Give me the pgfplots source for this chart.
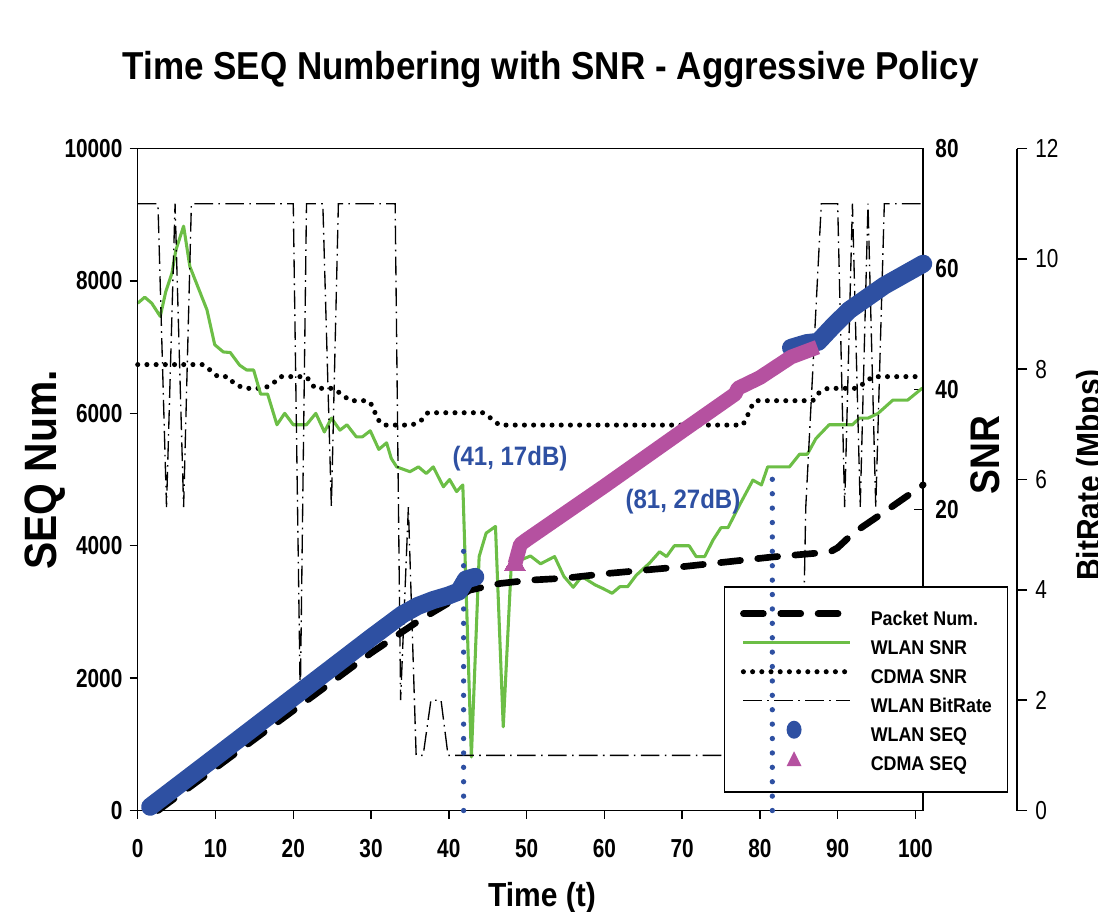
\documentclass[border=0pt]{standalone}
\usepackage{fontspec}
\setmainfont[FakeStretch=0.9]{Liberation Sans}
\newfontfamily\tickfam[FakeStretch=0.8]{Liberation Sans}
\usepackage{pgfplots}
\pgfplotsset{compat=1.18}

\definecolor{seqblue}{RGB}{46,80,162}
\definecolor{snrgreen}{RGB}{108,190,70}
\definecolor{cdmapink}{RGB}{181,81,160}

\newcommand\tlfont{\tickfam\fontsize{19.5}{19.5}\selectfont\bfseries}
% fixed (invisible) box for every legend image, so all rows line up
\newcommand\legbox{\pgfpathrectangle{\pgfpoint{0pt}{-2pt}}{\pgfpoint{80pt}{14pt}}\pgfusepath{discard}}

\tikzset{
  packetstyle/.style={black, line width=5pt, dash pattern=on 15pt off 13pt, line cap=round},
  wsnrstyle/.style={snrgreen, line width=2.3pt, line join=round},
  csnrstyle/.style={black, line width=3.8pt, dash pattern=on 0pt off 6.9pt, line cap=round},
  bratestyle/.style={black, line width=1pt, dash pattern=on 14pt off 4pt on 1.2pt off 4pt},
}
\pgfplotsset{
  common/.style={at={(0pt,0pt)}, anchor=south west, scale only axis,
    width=589.1pt, height=496.5pt, xmin=0, xmax=101, clip=false,
    /pgf/number format/assume math mode=true},
}

\begin{document}
\begin{tikzpicture}

% SNR axis (right)
\begin{axis}[common, ymin=-30, ymax=80,
    axis x line=none, axis y line*=right,
    ytick={20,40,60,80}, tick align=inside, major tick length=7pt,
    axis line style={line width=1.1pt},
    tick style={line width=1.1pt, black},
    yticklabel style={font=\tlfont, anchor=west, inner sep=0pt, xshift=9pt}]
\addplot[csnrstyle] coordinates {
 (0,44.1) (8.4,44.1) (9.3,43.2) (10.3,42.1) (11.6,42.1) (12.5,40.8) (13.8,40.15)
 (16.1,40.15) (17.2,40.7) (18.3,42.1) (21.7,42.1) (22.8,40.15) (25.1,40.15)
 (26.3,39.1) (27.3,38.1) (29.6,38.1) (30.3,37.1) (30.7,35.2) (31.6,34.05)
 (35.2,34.05) (36.3,34.6) (37.3,36.1) (44.4,36.1) (45.5,35.1) (46.5,34.05)
 (77.8,34.05) (78.3,35.3) (78.9,37.1) (79.5,38.1) (86.8,38.1) (87.6,39.4)
 (88.7,40.15) (92.4,40.15) (93.4,41.0) (94.5,42.1) (101,42.1)
};
\addplot[wsnrstyle] coordinates {
 (0,54.3) (0.9,55.3) (1.8,54.3) (2.9,52.1) (3.6,56.2) (4.4,59.3) (4.9,63.1)
 (5.9,67.1) (6.7,60.4) (7.8,56.8) (8.9,53.2) (9.9,47.4) (11,46.2) (11.9,46.1)
 (13.1,44.0) (14,43.2) (14.9,43.2) (15.8,39.2) (16.7,39.2) (17.9,34.1) (18.9,36.0)
 (20,34.1) (21.7,34.1) (22.9,36.0) (24,32.9) (24.9,35.2) (26,33.2) (26.9,34.1)
 (28.1,32.1) (28.9,32.1) (29.9,33.1) (31,30.0) (32,31.1) (32.6,28.5) (33.3,27.1)
 (35,26.3) (36.1,27.1) (37.1,26.0) (38,27.1) (39.3,23.8) (40.1,25.0) (41,23.0)
 (41.8,24.1) (42.9,-21.1) (43.9,12.2) (44.8,16.1) (46,17.2) (47,-16.1) (48,10.0)
 (49.2,11.6) (50.5,12.3) (51.8,11.0) (53.6,12.2) (54.8,8.9) (56,7.1) (57.1,8.9)
 (58.8,7.5) (59.8,6.9) (61,6.1) (62,7.2) (63,7.2) (64.1,9.1) (65.8,11.1) (67.1,13.0)
 (68,12.2) (69,14.0) (70.9,14.0) (71.8,12.2) (72.9,12.2) (74,15.0) (75,17.0)
 (75.9,17.0) (77.4,20.8) (79.1,24.9) (80.2,24.1) (81,27.1) (83.8,27.1) (85.1,29.2)
 (86.1,29.2) (87.2,31.8) (88.9,34.1) (91.9,34.1) (92.8,35.2) (93.9,35.2) (95.2,36.0)
 (97.1,38.2) (99,38.2) (100.9,40.2)
};
\end{axis}

% BitRate axis (far right)
\begin{axis}[at={(0pt,0pt)}, anchor=south west, scale only axis,
    width=659.5pt, height=496.5pt, xmin=0, xmax=113.07, ymin=0, ymax=12,
    axis x line=none, axis y line*=right,
    ytick={0,2,...,12}, tick align=outside, major tick length=7.5pt,
    axis line style={line width=1.1pt},
    tick style={line width=1.1pt, black},
    /pgf/number format/assume math mode=true,
    yticklabel style={font=\tickfam\fontsize{19.5}{19.5}\selectfont, anchor=west, inner sep=0pt, xshift=6pt}]
\addplot[bratestyle] coordinates {
 (0,11) (2.6,11) (3.7,5.5) (4.8,11) (5.9,5.5) (6.9,11) (20,11) (20.9,2) (21.7,11)
 (23.8,11) (24.9,5.5) (25.8,11) (33.1,11) (33.8,2) (34.8,5.5) (35.8,1) (36.7,1)
 (37.7,2) (39,2) (39.9,1) (85.3,1) (85.9,5.5) (87.9,11) (90,11) (90.9,5.5) (91.9,11)
 (92.9,5.5) (93.9,11) (94.9,5.5) (96,11) (101,11)
};
\end{axis}

% SEQ axis (main)
\begin{axis}[common, ymin=0, ymax=10000,
    xtick={0,10,...,100}, ytick={0,2000,...,10000},
    xtick pos=left, ytick pos=left, tick align=outside, major tick length=6pt,
    axis line style={line width=1.1pt},
    tick style={line width=1.1pt, black},
    scaled y ticks=false, /pgf/number format/1000 sep={},
    ticklabel style={font=\tlfont},
    xticklabel style={yshift=-12pt},
    yticklabel style={xshift=-2pt},
    legend cell align=left,
    legend style={at={(axis description cs:0.7464,0.3391)}, anchor=north west,
      draw=black, line width=1.1pt, fill=white,
      inner xsep=11.5pt, inner ysep=13.2pt,
      font=\fontsize{14.9}{14.9}\selectfont\bfseries,
      row sep=3pt, column sep=13pt,
      nodes={inner sep=0pt, text height=10.4pt, text depth=3.1pt}}]
\addplot[packetstyle,
  legend image code/.code={\legbox\draw[packetstyle] (0pt,5pt) -- (80pt,5pt);}] coordinates {
 (2.6,0) (10,642) (20,1510) (30,2380) (36.3,2880) (40.6,3180) (42.7,3330)
 (46.6,3430) (50.4,3480) (55,3510) (60.3,3580) (70,3683) (81.6,3830) (89,3905)
 (90,3970) (92,4190) (96,4510) (101,4920)
};
\addlegendentry{Packet Num.}
\addlegendimage{legend image code/.code={\legbox\draw[wsnrstyle] (0pt,5pt) -- (80pt,5pt);}}
\addlegendentry{WLAN SNR}
\addlegendimage{legend image code/.code={\legbox\draw[csnrstyle] (0pt,5pt) -- (80pt,5pt);}}
\addlegendentry{CDMA SNR}
\addlegendimage{legend image code/.code={\legbox\draw[bratestyle] (0pt,5pt) -- (80pt,5pt);}}
\addlegendentry{WLAN BitRate}
\addplot[seqblue, line width=13.5pt, line cap=round, line join=round,
  legend image code/.code={\legbox\path[fill=seqblue, draw=none, line width=0pt] (38pt,5pt) ellipse (5.6pt and 6.75pt);}] coordinates {
 (1.6,57) (10,810) (20,1710) (30,2610) (34,2960) (36,3090) (38,3180) (40,3250)
 (41.3,3310) (42.2,3490) (43.4,3530)
};
\addlegendentry{WLAN SEQ}
\addplot[seqblue, line width=13.5pt, line cap=round, line join=round, forget plot] coordinates {
 (84,6990) (86,7060) (87.5,7080) (89.5,7330) (91.5,7560) (96,7930) (101,8260)
};
\addplot[cdmapink, line width=11pt, line join=round,
  mark=triangle*, mark indices={1}, mark size=9pt, mark options={solid, line width=0pt},
  legend image code/.code={\legbox\path[fill=cdmapink, draw=none, line width=0pt] (32.4pt,-0.6pt) -- (43.6pt,-0.6pt) -- (38pt,10.6pt) -- cycle;}] coordinates {
 (48.5,3720) (49.2,4020) (50,4090) (60,4900) (70,5730) (76.8,6290) (77.2,6380)
 (80,6540) (84,6850) (87.4,7000)
};
\addlegendentry{CDMA SEQ}
\end{axis}

% dotted markers over everything
\begin{axis}[common, ymin=-30, ymax=80, hide axis]
\addplot[seqblue, line width=4pt, dash pattern=on 0pt off 10.8pt, line cap=round]
  coordinates {(41.9,-30) (41.9,13.3)};
\addplot[seqblue, line width=4pt, dash pattern=on 0pt off 10.8pt, line cap=round]
  coordinates {(81.6,-30) (81.6,25.2)};
\end{axis}

\node[font=\fontsize{29.2}{30}\selectfont\bfseries, anchor=base] at (309.6pt,548.4pt)
  {Time SEQ Numbering with SNR - Aggressive Policy};
\node[font=\fontsize{34}{34}\selectfont\bfseries, rotate=90] at (-69.5pt,255.4pt) {SEQ Num.};
\node[font=\fontsize{31}{31}\selectfont\bfseries, rotate=90] at (635.5pt,266.6pt) {SNR};
\node[font=\fontsize{25}{25}\selectfont\bfseries, rotate=90, anchor=base] at (721.7pt,251.6pt) {BitRate (Mbps)};
\node[font=\fontsize{25}{25}\selectfont\bfseries, anchor=base] at (303.2pt,-71.6pt) {Time (t)};
\node[font=\fontsize{20}{20}\selectfont\bfseries, text=seqblue] at (279.2pt,263.6pt) {(41, 17dB)};
\node[font=\fontsize{20}{20}\selectfont\bfseries, text=seqblue] at (408.9pt,231.4pt) {(81, 27dB)};

\pgfresetboundingbox
\path[use as bounding box] (-103.3pt,-75.4pt) rectangle (720.2pt,607.9pt);
\end{tikzpicture}
\end{document}
